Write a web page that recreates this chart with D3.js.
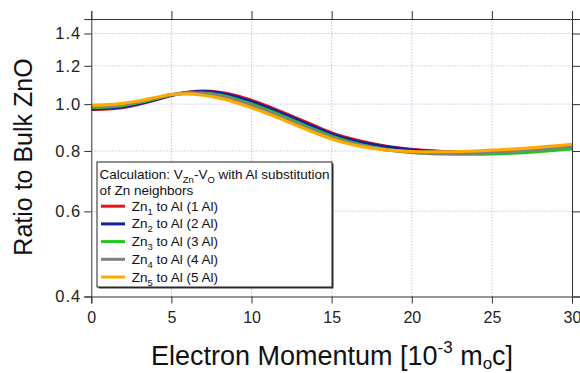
<!DOCTYPE html>
<html>
<head>
<meta charset="utf-8">
<script src="https://cdn.jsdelivr.net/npm/d3@7"></script>
<style>
	body { margin: 0; background: #fff; }
	svg { display: block; font-family: 'Liberation Sans', Arial, sans-serif; }
	.grid line { stroke: #c4c4f0; stroke-dasharray: 1.5,1.5; }
	.axis path, .axis line { stroke: #333; }
	.axis text { fill: #222; font-size: 16px; }
	.axis.y text { font-size: 16.5px; letter-spacing: 1px; }
</style>
</head>
<body>
<div id="chart"></div>
<script>
// electron momentum (10^-3 m0c)
var momentum = [0, 1, 2, 3, 4, 5, 6, 7, 8, 9, 10, 11, 12, 13, 14, 15,
	16, 17, 18, 19, 20, 21, 22, 23, 24, 25, 26, 27, 28, 29, 30];

var zn1 = [0.975, 0.978, 0.985, 1.000, 1.020, 1.042, 1.058, 1.064, 1.058, 1.042, 1.018,
	0.990, 0.960, 0.930, 0.900, 0.872, 0.852, 0.836, 0.823, 0.813, 0.806,
	0.801, 0.798, 0.797, 0.797, 0.798, 0.800, 0.803, 0.807, 0.811, 0.815];
var zn2 = [0.978, 0.981, 0.988, 1.003, 1.022, 1.043, 1.057, 1.061, 1.054, 1.037, 1.012,
	0.984, 0.954, 0.924, 0.895, 0.867, 0.847, 0.832, 0.820, 0.811, 0.804,
	0.800, 0.797, 0.796, 0.796, 0.797, 0.799, 0.802, 0.806, 0.810, 0.815];
var zn3 = [0.984, 0.987, 0.994, 1.008, 1.026, 1.045, 1.055, 1.054, 1.044, 1.025, 1.000,
	0.972, 0.943, 0.913, 0.884, 0.858, 0.838, 0.822, 0.810, 0.801, 0.795,
	0.791, 0.789, 0.788, 0.788, 0.789, 0.791, 0.794, 0.798, 0.803, 0.808];
var zn4 = [0.990, 0.993, 0.999, 1.012, 1.029, 1.046, 1.054, 1.051, 1.040, 1.020, 0.994,
	0.966, 0.937, 0.907, 0.879, 0.853, 0.834, 0.819, 0.808, 0.800, 0.795,
	0.792, 0.791, 0.791, 0.792, 0.794, 0.797, 0.801, 0.806, 0.812, 0.818];
var zn5 = [0.995, 0.998, 1.004, 1.016, 1.032, 1.047, 1.050, 1.043, 1.029, 1.008, 0.983,
	0.955, 0.927, 0.898, 0.871, 0.847, 0.829, 0.816, 0.807, 0.801, 0.798,
	0.797, 0.797, 0.798, 0.800, 0.803, 0.806, 0.810, 0.815, 0.820, 0.826];

var seriesKeys = ['zn1', 'zn2', 'zn3', 'zn4', 'zn5'];
var seriesValues = { zn1: zn1, zn2: zn2, zn3: zn3, zn4: zn4, zn5: zn5 };
var seriesNums = ['1', '2', '3', '4', '5'];
var colors = {
	zn1: '#e8141e',
	zn2: '#1420a0',
	zn3: '#1ec81e',
	zn4: '#808080',
	zn5: '#ffaa00'
};

var xTicks = [0, 5, 10, 15, 20, 25, 30];
var yTicks = [0.4, 0.6, 0.8, 1.0, 1.2, 1.4];

var W = 580, H = 373;
var margin = { top: 19, right: 8, bottom: 76.5, left: 91.3 };
var width = W - margin.left - margin.right;
var height = H - margin.top - margin.bottom;

var svg = d3.select('#chart').append('svg')
	.attr('width', W)
	.attr('height', H);

var x = d3.scaleLinear().domain([0, 30]).range([0, width]);
var y = d3.scaleLog().domain([0.4, 1.5]).range([height, 0]);

var g = svg.append('g')
	.attr('transform', 'translate(' + margin.left + ',' + margin.top + ')');

// grid
var grid = g.append('g').attr('class', 'grid');
grid.selectAll('.gx').data(xTicks.slice(1, -1)).enter().append('line')
	.attr('x1', function(d) { return x(d); })
	.attr('x2', function(d) { return x(d); })
	.attr('y1', 0).attr('y2', height);
grid.selectAll('.gy').data(yTicks.slice(1)).enter().append('line')
	.attr('x1', 0).attr('x2', width)
	.attr('y1', function(d) { return y(d); })
	.attr('y2', function(d) { return y(d); });

// curves
g.append('clipPath').attr('id', 'clip')
	.append('rect').attr('width', width).attr('height', height);

var line = d3.line()
	.x(function(d, i) { return x(momentum[i]); })
	.y(function(d) { return y(d); })
	.curve(d3.curveMonotoneX);

seriesKeys.forEach(function(key) {
	g.append('path')
		.datum(seriesValues[key])
		.attr('clip-path', 'url(#clip)')
		.attr('fill', 'none')
		.attr('stroke', colors[key])
		.attr('stroke-width', 3.2)
		.attr('d', line);
});

// axes (mirrored frame, ticks outward)
g.append('g').attr('class', 'axis x')
	.attr('transform', 'translate(0,' + height + ')')
	.call(d3.axisBottom(x).tickValues(xTicks).tickSize(7).tickPadding(8).tickFormat(d3.format('d')));
g.append('g').attr('class', 'axis')
	.call(d3.axisTop(x).tickValues(xTicks).tickSize(8).tickFormat(''));
g.append('g').attr('class', 'axis y')
	.call(d3.axisLeft(y).tickValues(yTicks).tickSize(7).tickPadding(3).tickFormat(d3.format('.1f')));
g.append('g').attr('class', 'axis')
	.attr('transform', 'translate(' + width + ',0)')
	.call(d3.axisRight(y).tickValues(yTicks).tickSize(8).tickFormat(''));

// axis titles
svg.append('text')
	.attr('transform', 'translate(32,157) rotate(-90)')
	.attr('text-anchor', 'middle')
	.style('font-size', '25px')
	.attr('fill', '#111')
	.text('Ratio to Bulk ZnO');

var xt = svg.append('text')
	.attr('x', 332).attr('y', 365)
	.attr('text-anchor', 'middle')
	.style('font-size', '27px')
	.attr('fill', '#111');
xt.append('tspan').text('Electron Momentum [10');
xt.append('tspan').attr('dy', -12).style('font-size', '17px').text('-3');
xt.append('tspan').attr('dy', 12).text(' m');
xt.append('tspan').attr('dy', 4).style('font-size', '17px').text('o');
xt.append('tspan').attr('dy', -4).text('c]');

// legend
var legend = svg.append('g').attr('transform', 'translate(97,162)');
legend.append('rect')
	.attr('x', 1.5).attr('y', 1.5)
	.attr('width', 235).attr('height', 125)
	.attr('fill', '#333');
legend.append('rect')
	.attr('width', 235).attr('height', 125)
	.attr('fill', '#fff')
	.attr('stroke', '#222')
	.attr('stroke-width', 1);

function richText(parent, px, py, parts) {
	var t = parent.append('text')
		.attr('x', px).attr('y', py)
		.style('font-size', '13.5px')
		.attr('fill', '#111');
	var shift = 0;
	parts.forEach(function(p) {
		var dy = (p.sub ? 4 : 0) - shift;
		shift = p.sub ? 4 : 0;
		t.append('tspan')
			.attr('dy', dy)
			.style('font-size', p.sub ? '9.5px' : '13.5px')
			.text(p.t);
	});
	return t;
}

richText(legend, 2.5, 16.5, [
	{ t: 'Calculation: V' }, { t: 'Zn', sub: true }, { t: '-V' }, { t: 'O', sub: true },
	{ t: ' with Al substitution' }
]);
richText(legend, 2.5, 32.5, [{ t: 'of Zn neighbors' }]);

seriesKeys.forEach(function(key, i) {
	var by = 48.7 + i * 17.7;
	legend.append('line')
		.attr('x1', 4).attr('x2', 28)
		.attr('y1', by - 4.5).attr('y2', by - 4.5)
		.attr('stroke', colors[key])
		.attr('stroke-width', 3);
	richText(legend, 34.7, by, [
		{ t: 'Zn' }, { t: seriesNums[i], sub: true },
		{ t: ' to Al (' + seriesNums[i] + ' Al)' }
	]);
});
</script>
</body>
</html>
